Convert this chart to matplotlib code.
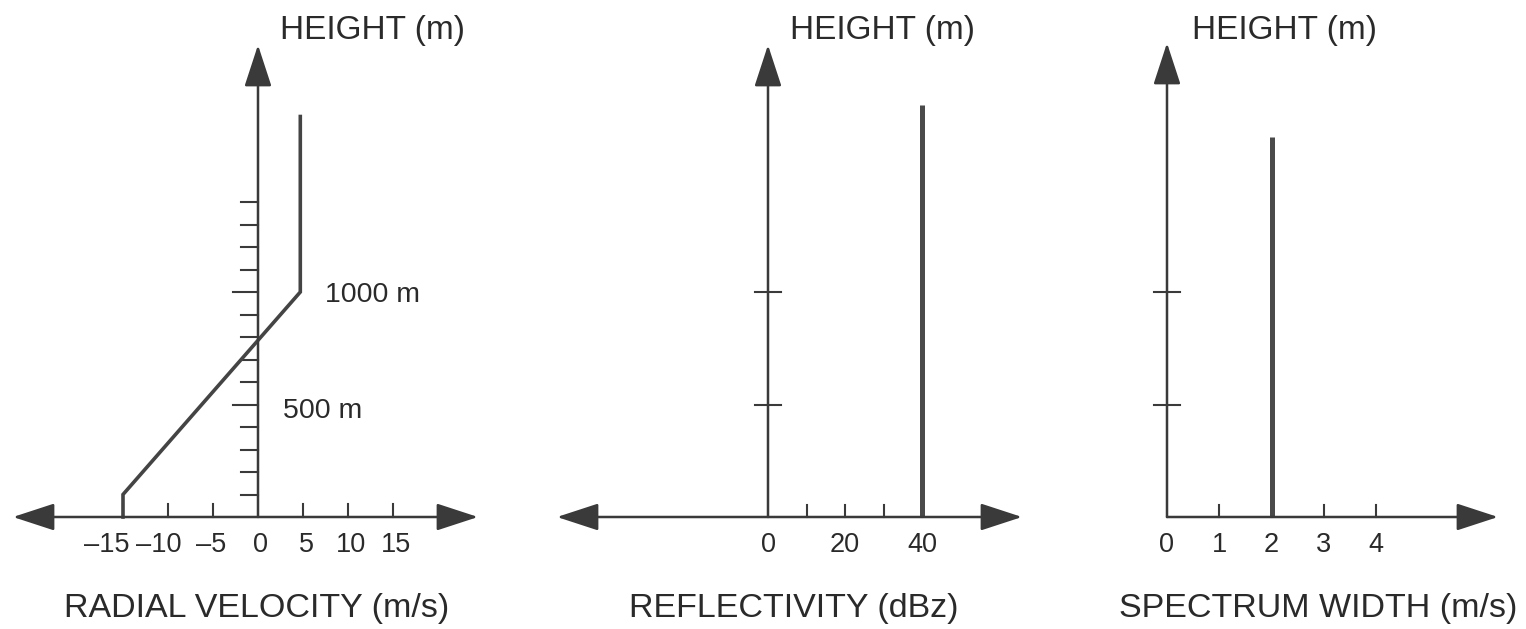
import matplotlib
matplotlib.use('Agg')
import matplotlib.pyplot as plt

plt.rcParams['font.family'] = ['Liberation Sans', 'DejaVu Sans']

# データ
vel_height = [0, 100, 1000, 1780]        # m
vel_speed = [-15, -15, 4.7, 4.7]         # m/s
vel_ticks = [-15, -10, -5, 0, 5, 10, 15]
vel_labels = ['\u201315', '\u201310', '\u20135', '0', '5', '10', '15']
vel_yticks = [100, 200, 300, 400, 500, 600, 700, 800, 900, 1000, 1100, 1200, 1300, 1400]
vel_ylong = [500, 1000]

refl_height = [0, 1830]
refl_value = [40, 40]                    # dBZ
refl_ticks = [10, 20, 30, 40]
refl_labels = [0, 20, 40]

sw_height = [0, 1690]
sw_value = [2, 2]                        # m/s
sw_ticks = [1, 2, 3, 4]
sw_labels = [0, 1, 2, 3, 4]

height_marks = [500, 1000]

W, H = 1526, 629
AX_Y = 517          # x軸の位置（上からのピクセル）
SY = 0.225          # px / m
LINE = '#3a3a3a'
TXT = '#2a2a2a'

fig = plt.figure(figsize=(W / 100, H / 100), dpi=100)


def panel(x0, x1, ox, sx):
    ax = fig.add_axes([x0 / W, 0, (x1 - x0) / W, 1])
    ax.set_xlim((x0 - ox) / sx, (x1 - ox) / sx)
    ax.set_ylim((AX_Y - H) / SY, AX_Y / SY)
    ax.axis('off')
    return ax


def arrow(ax, start, tip, style='-|>'):
    ax.annotate('', xy=tip, xytext=start,
                arrowprops=dict(arrowstyle=style + ',head_length=2.6,head_width=0.85',
                                mutation_scale=10, lw=1.8, color=LINE,
                                shrinkA=0, shrinkB=0))


def fig_text(xpx, ypx, s, size, ha='center'):
    fig.text(xpx / W, 1 - ypx / H, s, fontsize=size, color=TXT, ha=ha, va='baseline')


def xlabels(ax, vals, labels, dx=0):
    for v, lbl in zip(vals, labels):
        shift = dx
        if str(lbl).startswith('\u2013'):
            # 負のラベルは左に広げて並べる
            shift = 1.5 * v + 6
        ax.annotate(str(lbl), xy=(v, 0), xytext=(shift, -35), textcoords='offset pixels',
                    ha='center', va='baseline', fontsize=19.5, color=TXT)


ytop = (AX_Y - 45) / SY

# ---- 動径速度 ----
sx1 = 9.0
ax1 = panel(0, 510, 258, sx1)
arrow(ax1, ((13 - 258) / sx1, 0), ((478 - 258) / sx1, 0), '<|-|>')
arrow(ax1, (0, 0), (0, ytop))
for h in vel_yticks:
    L = 25 if h in vel_ylong else 17
    ax1.plot([-L / sx1, 0], [h, h], color=LINE, lw=1.5)
for v in vel_ticks:
    if v != 0:
        ax1.plot([v, v], [0, 13 / SY], color=LINE, lw=1.5)
ax1.plot(vel_speed, vel_height, color='#444444', lw=2.6, solid_joinstyle='miter')
xlabels(ax1, vel_ticks, vel_labels, dx=3)
ax1.annotate('1000 m', xy=(0, 1000), xytext=(325 - 258, -(303 - 293)),
             textcoords='offset pixels', ha='left', va='baseline', fontsize=20.5, color=TXT)
ax1.annotate('500 m', xy=(0, 500), xytext=(283 - 258, -(417 - 404)),
             textcoords='offset pixels', ha='left', va='baseline', fontsize=20.5, color=TXT)

# ---- 反射強度 ----
sx2 = 3.85
ax2 = panel(520, 1050, 768, sx2)
arrow(ax2, ((557 - 768) / sx2, 0), ((1022 - 768) / sx2, 0), '<|-|>')
arrow(ax2, (0, 0), (0, ytop))
for h in height_marks:
    ax2.plot([-13 / sx2, 13 / sx2], [h, h], color=LINE, lw=1.5)
for v in refl_ticks:
    ax2.plot([v, v], [0, 12 / SY], color=LINE, lw=1.5)
ax2.plot(refl_value, refl_height, color='#4a4a4a', lw=3.6, solid_capstyle='butt')
xlabels(ax2, refl_labels, refl_labels)

# ---- スペクトル幅 ----
sx3 = 52.25
ax3 = panel(1060, W, 1167, sx3)
arrow(ax3, (0, 0), ((1498 - 1167) / sx3, 0))
arrow(ax3, (0, 0), (0, (AX_Y - 43) / SY))
for h in height_marks:
    ax3.plot([-13 / sx3, 13 / sx3], [h, h], color=LINE, lw=1.5)
for v in sw_ticks:
    ax3.plot([v, v], [0, 12 / SY], color=LINE, lw=1.5)
ax3.plot(sw_value, sw_height, color='#4a4a4a', lw=3.6, solid_capstyle='butt')
xlabels(ax3, sw_labels, sw_labels)

# ラベル
for cx in [373, 883, 1285]:
    fig_text(cx, 39, 'HEIGHT (m)', 24)
fig_text(257, 617, 'RADIAL VELOCITY (m/s)', 24.5)
fig_text(794, 617, 'REFLECTIVITY (dBz)', 24.5)
fig_text(1318, 617, 'SPECTRUM WIDTH (m/s)', 24.5)

plt.savefig('out.png', dpi=100)
